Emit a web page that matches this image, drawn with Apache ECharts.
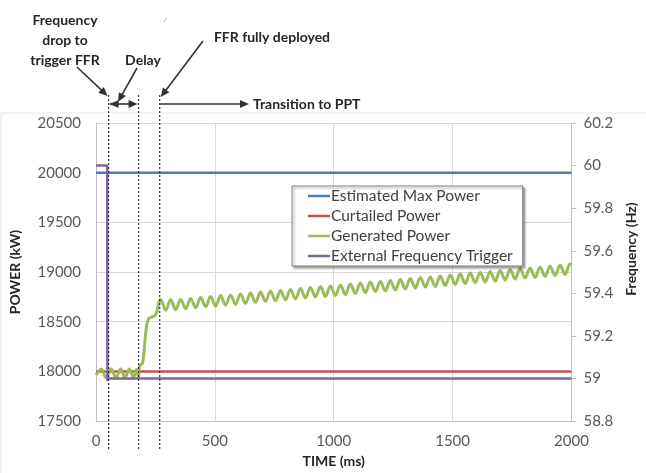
<!DOCTYPE html>
<html>
<head>
<meta charset="utf-8">
<script src="https://cdn.jsdelivr.net/npm/echarts@6/dist/echarts.min.js"></script>
<style>
  html, body { margin: 0; padding: 0; background: #fff; }
  #chart { width: 646px; height: 473px; }
</style>
</head>
<body>
<div id="chart"></div>
<script>
// ---- data ----
const maxPowerTime = [0, 2000]
const maxPowerKw = [20000, 20000]

const curtailedTime = [0, 2000]
const curtailedKw = [18000, 18000]

const triggerTime = [0, 47, 48, 52, 2000]
const triggerHz = [60.0, 60.0, 58.99, 59.0, 59.0]

const generatedTime = [
  0, 22, 42, 64, 84, 104, 122, 140, 158, 170, 179, 184, 195, 200, 206, 213, 221, 232, 247, 256, 264,
  272, 293, 314, 335, 356, 377, 398, 419, 440, 461, 482, 503, 524, 545, 566, 587, 608, 629, 650, 671,
  692, 713, 734, 755, 776, 797, 818, 839, 860, 881, 902, 923, 944, 965, 986, 1007, 1028, 1049, 1070,
  1091, 1112, 1133, 1154, 1175, 1196, 1217, 1238, 1259, 1280, 1301, 1322, 1343, 1364, 1385, 1406,
  1427, 1448, 1469, 1490, 1511, 1532, 1553, 1574, 1595, 1616, 1637, 1658, 1679, 1700, 1721, 1742,
  1763, 1784, 1805, 1826, 1847, 1868, 1889, 1910, 1931, 1952, 1973, 1994, 2000
]
const generatedKw = [
  17965, 18025, 17935, 18025, 17935, 18025, 17935, 18025, 17935, 18020, 17945, 18060, 18080, 18150,
  18310, 18460, 18530, 18545, 18560, 18600, 18690,
  18725, 18615, 18720, 18620, 18725, 18630, 18735, 18640, 18745, 18650, 18755, 18655, 18765, 18665,
  18770, 18675, 18780, 18685, 18790, 18695, 18800, 18705, 18810, 18710, 18815, 18720, 18825, 18730,
  18835, 18740, 18845, 18750, 18855, 18755, 18860, 18765, 18870, 18775, 18880, 18785, 18890, 18795,
  18900, 18805, 18905, 18810, 18915, 18820, 18925, 18830, 18935, 18840, 18945, 18850, 18950, 18855,
  18960, 18865, 18970, 18875, 18980, 18885, 18990, 18895, 18995, 18900, 19005, 18910, 19015, 18920,
  19025, 18930, 19035, 18940, 19040, 18945, 19050, 18955, 19060, 18965, 19070, 18975, 19080, 19075
]

// event markers (ms): trigger, end of delay, FFR fully deployed
const eventTimes = [53, 179, 268]

const pair = (xs, ys) => xs.map((x, i) => [x, ys[i]])

const font = 'Lato, "Open Sans", sans-serif'
const labelColor = '#595959'
const titleColor = '#262626'
const gridColor = '#d9d9d9'
const axisColor = '#bfbfbf'

const chart = echarts.init(document.getElementById('chart'))

const lineSeries = (name, data, color, width, yAxisIndex) => ({
  name,
  type: 'line',
  yAxisIndex,
  data,
  symbol: 'none',
  showSymbol: false,
  lineStyle: { color, width },
  itemStyle: { color },
  animation: false
})

const option = {
  backgroundColor: '#fff',
  textStyle: { fontFamily: font },
  grid: { left: 93, right: 71, top: 123, bottom: 49 },
  legend: {
    orient: 'vertical',
    left: 292,
    top: 186,
    icon: 'rect',
    itemWidth: 22,
    itemHeight: 2.5,
    itemGap: 0,
    padding: [0, 10, 0, 16],
    backgroundColor: '#fff',
    borderColor: '#7f7f7f',
    borderWidth: 1,
    shadowColor: 'rgba(0,0,0,0.35)',
    shadowBlur: 2,
    shadowOffsetX: 2,
    shadowOffsetY: 2,
    textStyle: { fontFamily: font, fontSize: 15.5, color: '#404040', lineHeight: 20, padding: [0, 0, 0, -4] },
    data: ['Estimated Max Power', 'Curtailed Power', 'Generated Power', 'External Frequency Trigger']
  },
  xAxis: {
    type: 'value',
    min: 0,
    max: 2000,
    interval: 500,
    name: 'TIME (ms)',
    nameLocation: 'middle',
    nameGap: 31,
    nameTextStyle: { fontFamily: font, fontSize: 14, fontWeight: 'bold', color: titleColor },
    axisLine: { show: true, lineStyle: { color: axisColor } },
    axisTick: { show: false },
    axisLabel: { fontFamily: font, fontSize: 15, color: labelColor, margin: 13,
      formatter: v => String(v) },
    splitLine: { show: true, lineStyle: { color: gridColor } }
  },
  yAxis: [
    {
      type: 'value',
      min: 17500,
      max: 20500,
      interval: 500,
      name: 'POWER (kW)',
      nameLocation: 'middle',
      nameRotate: 90,
      nameGap: 74,
      nameTextStyle: { fontFamily: font, fontSize: 14, fontWeight: 'bold', color: titleColor },
      axisLine: { show: true, lineStyle: { color: axisColor } },
      axisTick: { show: false },
      axisLabel: { fontFamily: font, fontSize: 15, color: labelColor, margin: 15,
        formatter: v => String(v) },
      splitLine: { show: true, lineStyle: { color: gridColor } }
    },
    {
      type: 'value',
      min: 58.8,
      max: 60.2,
      interval: 0.2,
      position: 'right',
      name: 'Frequency (Hz)',
      nameLocation: 'middle',
      nameRotate: 90,
      nameGap: 50,
      nameTextStyle: { fontFamily: font, fontSize: 14, fontWeight: 'bold', color: titleColor,
        padding: [0, 0, 0, 46] },
      axisLine: { show: true, lineStyle: { color: axisColor } },
      axisTick: { show: true, length: 5, lineStyle: { color: axisColor } },
      axisLabel: { fontFamily: font, fontSize: 15, color: labelColor, margin: 12,
        formatter: v => String(Math.round(v * 10) / 10) },
      splitLine: { show: false }
    }
  ],
  series: [
    lineSeries('Estimated Max Power', pair(maxPowerTime, maxPowerKw), '#4a7ebb', 2.5, 0),
    lineSeries('Curtailed Power', pair(curtailedTime, curtailedKw), '#c0504d', 2.5, 0),
    Object.assign(lineSeries('Generated Power', pair(generatedTime, generatedKw), '#9bbb59', 3, 0),
      { smooth: 0.35 }),
    lineSeries('External Frequency Trigger', pair(triggerTime, triggerHz), '#8064a2', 2.5, 1)
  ]
}

chart.setOption(option)

// ---- annotations drawn above the plot ----
const arrow = (x1, y1, x2, y2, both) => {
  const a = Math.atan2(y2 - y1, x2 - x1)
  const L = 9, W = 4
  const head = (tx, ty, ang) => ({
    type: 'polygon',
    shape: { points: [
      [tx, ty],
      [tx - L * Math.cos(ang) + W * Math.sin(ang), ty - L * Math.sin(ang) - W * Math.cos(ang)],
      [tx - L * Math.cos(ang) - W * Math.sin(ang), ty - L * Math.sin(ang) + W * Math.cos(ang)]
    ] },
    style: { fill: '#333' }
  })
  const els = [{
    type: 'line',
    shape: { x1, y1, x2: x2 - (L - 2) * Math.cos(a), y2: y2 - (L - 2) * Math.sin(a) },
    style: { stroke: '#333', lineWidth: 1.6 }
  }, head(x2, y2, a)]
  if (both) els.push(head(x1, y1, a + Math.PI))
  return els
}

const ex = eventTimes.map(t => chart.convertToPixel({ xAxisIndex: 0 }, t))
const textStyle = (text, x, y, align) => ({
  type: 'text',
  x, y,
  style: { text, fontFamily: font, fontSize: 14, fontWeight: 'bold', fill: titleColor,
    align: align || 'center', verticalAlign: 'middle', lineHeight: 20 }
})

const graphics = [
  { type: 'polyline', shape: { points: [[1, 473], [1, 113], [646, 113]] },
    style: { stroke: '#e6e6e6', lineWidth: 1, fill: null } },
  { type: 'line', shape: { x1: 164, y1: 22, x2: 167, y2: 18 }, style: { stroke: '#aaa', lineWidth: 1 } }
]
ex.forEach(x => graphics.push({
  type: 'line',
  shape: { x1: x, y1: 95, x2: x, y2: 450 },
  style: { stroke: '#333', lineWidth: 1.2, lineDash: [2, 2] },
  z: 100
}))
graphics.push(textStyle('Frequency\ndrop to\ntrigger FFR', 65, 40))
graphics.push(textStyle('Delay', 143, 60))
graphics.push(textStyle('FFR fully deployed', 272, 37))
graphics.push(textStyle('Transition to PPT', 253, 104, 'left'))
graphics.push(...arrow(77, 67, ex[0] - 1, 96))
graphics.push(...arrow(ex[0] + 1, 104, ex[1] - 1, 104, true))
graphics.push(...arrow(137, 68, 118, 102))
graphics.push(...arrow(203, 41, ex[2] + 1, 97))
graphics.push(...arrow(ex[2], 104, 249, 104))

chart.setOption({ graphic: graphics.map(g => Object.assign({ z: 100 }, g)) })
</script>
</body>
</html>
